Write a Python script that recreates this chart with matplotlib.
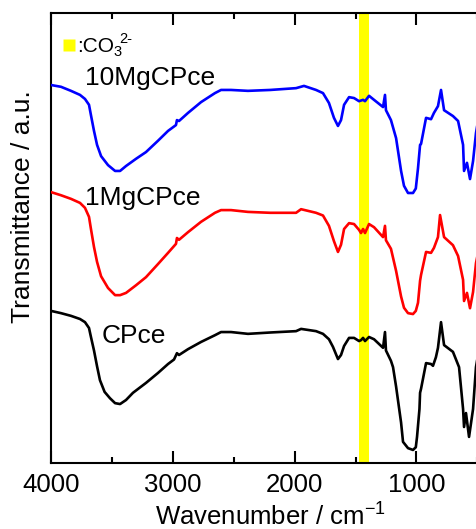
import numpy as np
import matplotlib.pyplot as plt

plt.rcParams['font.family'] = ['Liberation Sans', 'DejaVu Sans']
plt.rcParams['mathtext.fontset'] = 'custom'
plt.rcParams['mathtext.rm'] = 'Liberation Sans'
plt.rcParams['mathtext.it'] = 'Liberation Sans'

# wavenumbers (cm-1) and transmittance (a.u., offset)
wn_10mg = [4000, 3918, 3836, 3762, 3721, 3688, 3672, 3647, 3622, 3589, 3532, 3474, 3433, 3384, 3302,
           3220, 3122, 3039, 2974, 2966, 2949, 2875, 2768, 2654, 2604, 2522, 2383, 2200, 1988, 1923,
           1824, 1767, 1718, 1677, 1644, 1619, 1594, 1553, 1512, 1471, 1438, 1422, 1389, 1348, 1274,
           1258, 1250, 1209, 1167, 1126, 1102, 1069, 1028, 1005, 987, 970, 962, 921, 880, 856, 823,
           798, 773, 700, 658, 617, 609, 585, 560, 535, 511, 470]
t_10mg = [84.0, 83.6, 82.7, 81.8, 80.9, 79.6, 77.3, 73.8, 70.7, 68.2, 66.2, 64.9, 64.9, 66.0, 67.6,
          69.1, 71.6, 73.8, 75.1, 76.2, 76.0, 77.8, 80.2, 82.2, 82.9, 82.9, 82.7, 82.9, 83.3, 83.8,
          82.9, 82.2, 80.0, 76.7, 74.9, 76.2, 79.6, 81.3, 81.1, 80.4, 80.7, 80.4, 81.6, 80.7, 79.1,
          81.8, 78.4, 76.2, 72.2, 64.9, 61.6, 60.0, 60.0, 61.0, 65.5, 70.7, 70.9, 76.7, 76.4, 77.8, 79.3,
          82.9, 78.4, 77.1, 76.0, 70.7, 64.9, 66.7, 63.1, 67.1, 73.3, 80.0]

wn_1mg = [4000, 3918, 3836, 3762, 3721, 3688, 3672, 3647, 3622, 3589, 3532, 3474, 3433, 3384, 3302,
          3220, 3122, 3039, 2974, 2966, 2949, 2875, 2768, 2654, 2604, 2522, 2383, 2200, 1988, 1947,
          1824, 1767, 1718, 1677, 1644, 1619, 1594, 1553, 1512, 1471, 1455, 1438, 1422, 1389, 1348, 1274,
          1258, 1250, 1209, 1167, 1126, 1102, 1069, 1028, 1005, 987, 970, 962, 921, 880, 856, 823,
          806, 773, 700, 658, 617, 609, 585, 560, 535, 511, 470]
t_1mg = [60.2, 59.5, 58.7, 57.8, 56.7, 54.7, 52.0, 48.0, 44.7, 41.5, 38.9, 37.3, 37.3, 37.8, 39.5,
         41.3, 44.2, 46.7, 48.7, 50.0, 49.6, 51.3, 53.6, 55.6, 56.2, 56.2, 55.8, 55.6, 55.6, 56.4,
         55.6, 55.0, 52.7, 49.3, 46.9, 48.5, 52.0, 53.3, 53.1, 51.8, 51.1, 52.0, 51.1, 53.1, 52.4, 50.2,
         52.7, 49.5, 47.6, 42.7, 37.0, 34.5, 33.3, 33.1, 33.8, 35.6, 40.5, 41.8, 46.9, 46.7, 47.8, 50.2,
         55.1, 50.2, 48.4, 46.0, 40.7, 36.0, 37.8, 34.4, 38.0, 44.4, 50.0]

wn_cp = [4000, 3918, 3836, 3762, 3721, 3688, 3672, 3647, 3622, 3598, 3560, 3516, 3474, 3433, 3384,
         3327, 3220, 3122, 3039, 2990, 2966, 2949, 2875, 2768, 2654, 2604, 2522, 2383, 2200, 1988, 1947,
         1824, 1767, 1718, 1685, 1644, 1619, 1594, 1553, 1512, 1471, 1455, 1438, 1422, 1389, 1348, 1274,
         1258, 1250, 1209, 1192, 1167, 1126, 1110, 1069, 1028, 1005, 995, 975, 970, 962, 921, 880, 864,
         840, 823, 798, 773, 700, 650, 617, 609, 593, 568, 535, 511, 470]
t_cp = [33.8, 33.3, 32.7, 32.0, 31.3, 30.0, 28.0, 25.0, 21.5, 18.4, 15.8, 14.4, 13.3, 13.1, 14.0,
        15.6, 17.8, 20.0, 22.0, 23.0, 24.4, 24.0, 25.3, 26.9, 28.4, 29.1, 29.1, 28.7, 29.0, 29.3, 29.8,
        29.3, 28.7, 27.5, 25.8, 23.1, 24.0, 26.0, 27.8, 27.8, 27.1, 27.3, 27.8, 27.1, 28.0, 27.5, 25.6,
        29.1, 25.0, 22.7, 21.3, 17.0, 9.0, 4.7, 3.3, 2.9, 3.5, 5.8, 12.0, 15.6, 16.5, 22.2, 22.0, 21.6,
        23.5, 25.6, 31.3, 26.2, 24.7, 21.3, 12.0, 8.0, 11.1, 5.8, 12.0, 21.3, 28.0]

labels = ['10MgCPce', '1MgCPce', 'CPce']
colors = ['#0000ff', '#ff0000', '#000000']
co3_band = (1388, 1470)

W, H = 476, 529
fig = plt.figure(figsize=(W / 100, H / 100), dpi=100)
ax = fig.add_axes([51 / W, 66 / H, 438.5 / W, 450 / H])

ax.axvspan(co3_band[0], co3_band[1], color='#ffff00', lw=0, zorder=1)
for wn, t, c in zip([wn_10mg, wn_1mg, wn_cp], [t_10mg, t_1mg, t_cp], colors):
    ax.plot(wn, t, color=c, lw=1.9, zorder=3, solid_joinstyle='round')

ax.set_xlim(4000, 400)
ax.set_ylim(0, 100)
ax.set_yticks([])
ax.set_xticks([4000, 3000, 2000, 1000])
ax.set_xticks(np.arange(3500, 399, -1000), minor=True)
ax.tick_params(axis='x', which='both', direction='in', top=True, width=1.5, labelsize=18.5, pad=7)
ax.tick_params(axis='x', which='major', length=8.5)
ax.tick_params(axis='x', which='minor', length=4.3)
for s in ax.spines.values():
    s.set_linewidth(1.5)

ax.set_xlabel('Wavenumber / cm$^{-1}$', fontsize=18.5, labelpad=5)
fig.text(23 / W, 1 - 207 / H, 'Transmittance / a.u.', rotation=90, fontsize=19,
         ha='center', va='center')

# sample labels
ax.text(3721, 84, labels[0], fontsize=19, va='baseline')
ax.text(3721, 57.3, labels[1], fontsize=19, va='baseline')
ax.text(3581, 26.7, labels[2], fontsize=19, va='baseline')

# carbonate marker
ax.plot([3852], [92.8], 's', color='#ffff00', ms=8.6, mec='none', zorder=4)
fig.text(77 / W, 1 - 52 / H, ':CO', fontsize=15, va='baseline')
fig.text(113 / W, 1 - 56 / H, '3', fontsize=10.5, va='baseline')
fig.text(119 / W, 1 - 43 / H, '2-', fontsize=10.5, va='baseline')

fig.savefig('out.png', dpi=100)
